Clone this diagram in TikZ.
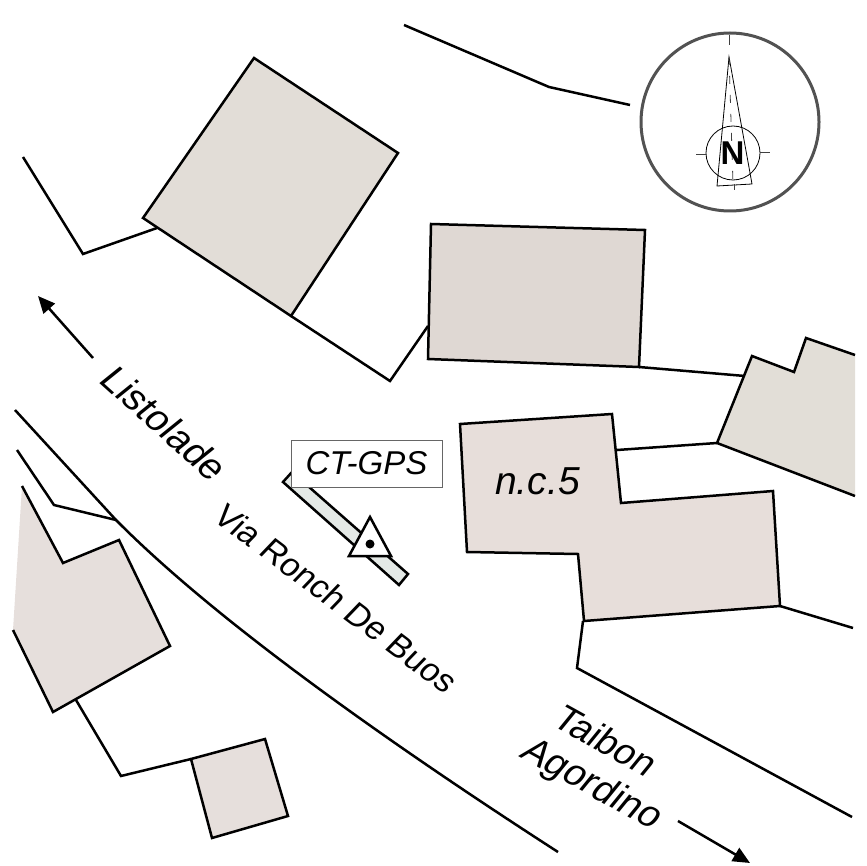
\documentclass[tikz,border=0pt]{standalone}
\usepackage{fontspec}
\setmainfont{Liberation Sans}
\usetikzlibrary{arrows.meta}
\definecolor{bldA}{HTML}{E2DDD7}
\definecolor{bldB}{HTML}{DFD8D3}
\definecolor{bldC}{HTML}{E2DED7}
\definecolor{bldD}{HTML}{E7DEDA}
\definecolor{bldE}{HTML}{E6DFDC}
\definecolor{barfill}{HTML}{E4E9E6}
\tikzset{
  wall/.style={draw=black,line width=2.5pt,line join=miter},
  boundary/.style={draw=black,line width=2.5pt,line join=miter},
  pointer/.style={draw=black,line width=2.5pt,-{Stealth[length=17pt,width=15pt,inset=0pt]}},
  tick/.style={draw=black!75,line width=0.8pt},
  lbl/.style={inner sep=0pt,text=black},
}
\begin{document}
\begin{tikzpicture}[x=1pt,y=-1pt]
\useasboundingbox (0,0) rectangle (866,866);
% boundaries
\draw[boundary] (404,25) -- (549,87) -- (630,105);
\draw[boundary] (23,157) -- (83,254) -- (157,228);
\draw[boundary] (291,316) -- (390,381) -- (428,326);
\draw[boundary] (639,367) -- (745,376);
\draw[boundary] (617,450) -- (717,443);
\draw[boundary] (780,606) -- (853,628);
\draw[boundary] (583,621) -- (577,668) -- (852,817);
\draw[boundary] (15,410) -- (116,520) .. controls (220,625) and (400,750) .. (558,852);
\draw[boundary] (17,450) -- (54,505) -- (116,520);
\draw[boundary] (76,700) -- (121,776) -- (191,759);
% buildings
\draw[wall,fill=bldA] (254,58) -- (398,153) -- (291,316) -- (143,218) -- cycle;
\draw[wall,fill=bldB] (431,224) -- (645,230) -- (639,367) -- (428,359) -- cycle;
\fill[bldC] (752,356) -- (794,372) -- (806,338) -- (855,355) -- (855,496) -- (717,443) -- cycle;
\draw[wall] (855,496) -- (717,443) -- (752,356) -- (794,372) -- (806,338) -- (855,355);
\draw[wall,fill=bldD] (460,424) -- (612,414) -- (621,503) -- (773,491) -- (780,606) -- (584,621) -- (578,554) -- (467,552) -- cycle;
\fill[bldE] (22,486) -- (63,563) -- (119,540) -- (170,646) -- (53,712) -- (13,630) -- cycle;
\draw[wall] (22,486) -- (63,563) -- (119,540) -- (170,646) -- (53,712) -- (13,630);
\draw[wall,fill=bldE] (191,759) -- (265,739) -- (288,816) -- (212,838) -- cycle;
% GPS marker
\draw[wall,fill=barfill] (283,482) -- (292,472) -- (408,574) -- (399,585) -- cycle;
\node[draw=black!60,line width=1pt,fill=white,minimum width=151pt,minimum height=47pt,inner sep=0pt,font=\fontsize{33}{33}\selectfont\itshape] (ctgps) at (366.5,463.5) {CT-GPS};
\draw[wall,fill=white] (370,517) -- (349,556) -- (391,556) -- cycle;
\fill[black] (370,544) circle (4.5);
% compass
\draw[draw=black!68,line width=3pt] (730,122) circle (89);
\draw[draw=black,line width=0.8pt] (733,153) circle (27);
\draw[draw=black,line width=0.8pt,line join=miter] (729,57) -- (717,186) -- (752,184) -- cycle;
\draw[tick,dash pattern=on 8pt off 11pt] (729,57) -- (733,184);
\draw[tick] (729,35) -- (729,45);
\draw[tick] (696,154) -- (706,154);
\draw[tick] (760,152) -- (770,152);
\draw[tick] (734,184) -- (734,190);
\node[lbl,font=\fontsize{33}{33}\selectfont\bfseries] (north) at (732.5,153) {N};
% labels and arrows
\coordinate (la) at (93,358); \coordinate (lb) at (38,296);
\draw[pointer] (la) -- (lb);
\coordinate (ra) at (678,821); \coordinate (rb) at (750,863);
\draw[pointer] (ra) -- (rb);
\node[lbl,anchor=base,rotate=-42,xslant=0.16,font=\fontsize{38}{38}\selectfont] (listolade) at (154,432) {Listolade};
\node[lbl,anchor=base,rotate=-37,xslant=0.12,font=\fontsize{33.5}{33.5}\selectfont] (via) at (328,607) {Via Ronch De Buos};
\node[lbl,anchor=base,rotate=-29,xslant=0.18,font=\fontsize{37}{37}\selectfont] (taibon) at (598,751) {Taibon};
\node[lbl,anchor=base,rotate=-29,xslant=0.18,font=\fontsize{38}{38}\selectfont] (agordino) at (585,793) {Agordino};
\node[lbl,font=\fontsize{39}{39}\selectfont\itshape] (nc) at (537.5,481) {n.c.5};
\end{tikzpicture}
\end{document}
